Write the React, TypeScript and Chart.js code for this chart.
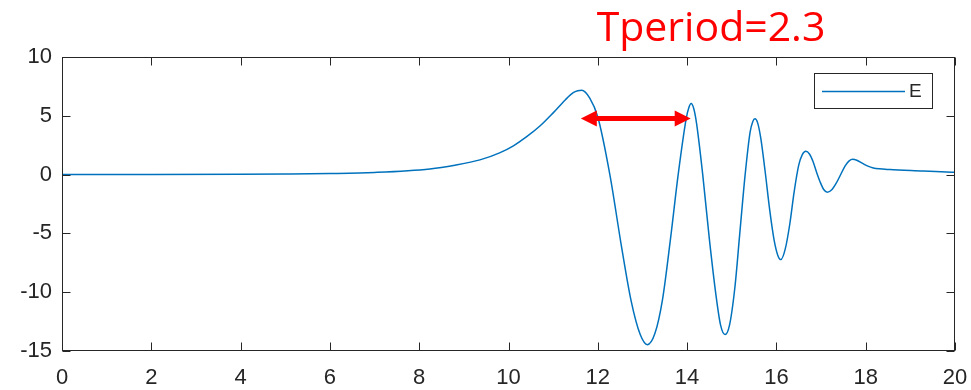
import React, { useEffect, useRef } from "react";
import { Chart, registerables } from "chart.js";

Chart.register(...registerables);

// ---- data ----
const tValues = [
  0, 2, 4, 5, 6, 7, 8.24, 8.8, 9.36, 9.8, 10.11, 10.4, 10.71, 11.0, 11.27, 11.45, 11.55, 11.64,
  11.82, 12.0, 12.27, 12.53, 12.75, 12.95, 13.11,
  13.28, 13.45, 13.63, 13.8, 13.98, 14.04, 14.09,
  14.15, 14.21, 14.35, 14.5, 14.65, 14.75, 14.85,
  14.95, 15.07, 15.18, 15.3, 15.41, 15.47, 15.52,
  15.58, 15.65, 15.75, 15.85, 15.95, 16.03, 16.1,
  16.2, 16.3, 16.4, 16.5, 16.58, 16.66,
  16.74, 16.82, 16.9, 16.98, 17.06, 17.14,
  17.24, 17.34, 17.44, 17.54, 17.63, 17.71,
  17.8, 17.93, 18.05, 18.17, 18.3, 18.54, 19.29, 19.93, 20,
];
const eValues = [
  0, 0.01, 0.03, 0.05, 0.09, 0.18, 0.48, 0.8, 1.25, 1.85, 2.45, 3.2, 4.15, 5.25, 6.35, 6.97, 7.13, 7.17,
  6.5, 4.9, 0, -6.1, -10.8, -13.6, -14.46,
  -13.5, -10.6, -5.4, 0, 4.76, 5.7, 6.04,
  5.6, 4.4, 0, -5.53, -10.35, -12.8, -13.6,
  -12.8, -9.6, -5.0, 0, 3.6, 4.5, 4.74,
  4.4, 3.1, 0.2, -3.0, -5.6, -6.85, -7.23,
  -6.3, -4.2, -1.4, 0.8, 1.7, 1.98,
  1.75, 1.11, 0.2, -0.63, -1.27, -1.5,
  -1.29, -0.73, 0.01, 0.75, 1.17, 1.3,
  1.22, 0.95, 0.72, 0.57, 0.49, 0.43, 0.31, 0.2, 0.19,
];
const seriesLabel = "E";
const xTicks = [0, 2, 4, 6, 8, 10, 12, 14, 16, 18, 20];
const yTicks = [-15, -10, -5, 0, 5, 10];
const titleText = "Tperiod=2.3";
const arrowStartX = 11.62;
const arrowEndX = 14.08;
const arrowY = 4.76;

const AXIS_COLOR = "#262626";
const LINE_COLOR = "#0072BD";

const decorPlugin = {
  id: "decor",
  afterDraw(chart: any) {
    const { ctx, chartArea, scales } = chart;
    const xs = scales.x;
    const ys = scales.y;
    const L = Math.round(chartArea.left) + 0.5;
    const R = Math.round(chartArea.right) - 0.5;
    const T = Math.round(chartArea.top) + 0.5;
    const B = Math.round(chartArea.bottom) - 0.5;
    ctx.save();
    // axes box
    ctx.strokeStyle = AXIS_COLOR;
    ctx.lineWidth = 1;
    ctx.strokeRect(L, T, R - L, B - T);
    // ticks inside on all sides
    const tl = 8;
    ctx.beginPath();
    xTicks.forEach((v) => {
      const px = Math.round(xs.getPixelForValue(v)) + 0.5;
      ctx.moveTo(px, B);
      ctx.lineTo(px, B - tl);
      ctx.moveTo(px, T);
      ctx.lineTo(px, T + tl);
    });
    yTicks.forEach((v) => {
      const py = Math.round(ys.getPixelForValue(v)) + 0.5;
      ctx.moveTo(L, py);
      ctx.lineTo(L + tl, py);
      ctx.moveTo(R, py);
      ctx.lineTo(R - tl, py);
    });
    ctx.stroke();

    // red double arrow
    const ax1 = xs.getPixelForValue(arrowStartX);
    const ax2 = xs.getPixelForValue(arrowEndX);
    const ay = ys.getPixelForValue(arrowY);
    const headL = 16;
    const headH = 8;
    ctx.strokeStyle = "#FF0000";
    ctx.fillStyle = "#FF0000";
    ctx.lineWidth = 5;
    ctx.beginPath();
    ctx.moveTo(ax1 + headL - 2, ay);
    ctx.lineTo(ax2 - headL + 2, ay);
    ctx.stroke();
    ctx.beginPath();
    ctx.moveTo(ax1, ay);
    ctx.lineTo(ax1 + headL, ay - headH);
    ctx.lineTo(ax1 + headL, ay + headH);
    ctx.closePath();
    ctx.fill();
    ctx.beginPath();
    ctx.moveTo(ax2, ay);
    ctx.lineTo(ax2 - headL, ay - headH);
    ctx.lineTo(ax2 - headL, ay + headH);
    ctx.closePath();
    ctx.fill();

    // legend box
    const lx = 814.5;
    const ly = 73.5;
    const lw = 118;
    const lh = 35;
    ctx.fillStyle = "#FFFFFF";
    ctx.fillRect(lx, ly, lw, lh);
    ctx.strokeStyle = AXIS_COLOR;
    ctx.lineWidth = 1;
    ctx.strokeRect(lx, ly, lw, lh);
    ctx.strokeStyle = LINE_COLOR;
    ctx.lineWidth = 1.5;
    ctx.beginPath();
    ctx.moveTo(822, 91.5);
    ctx.lineTo(905, 91.5);
    ctx.stroke();
    ctx.fillStyle = AXIS_COLOR;
    ctx.font = "19px 'Liberation Sans', Arial, sans-serif";
    ctx.textAlign = "left";
    ctx.textBaseline = "middle";
    ctx.fillText(chart.data.datasets[0].label, 909, 92);

    // title
    ctx.fillStyle = "#FF0000";
    ctx.font = "41px 'Open Sans', sans-serif";
    ctx.textAlign = "center";
    ctx.textBaseline = "alphabetic";
    ctx.fillText(titleText, 711, 41);
    ctx.restore();
  },
};

export default function App() {
  const canvasRef = useRef<HTMLCanvasElement | null>(null);

  useEffect(() => {
    if (!canvasRef.current) return;
    const tickFont = { family: "'Liberation Sans', Arial, sans-serif", size: 22 };
    const chart = new Chart(canvasRef.current, {
      type: "line",
      data: {
        datasets: [
          {
            label: seriesLabel,
            data: tValues.map((t, i) => ({ x: t, y: eValues[i] })),
            borderColor: LINE_COLOR,
            borderWidth: 1.5,
            pointRadius: 0,
            fill: false,
            cubicInterpolationMode: "monotone",
          },
        ],
      },
      options: {
        responsive: false,
        animation: false,
        events: [],
        layout: { padding: { top: 57, right: 16, left: 0, bottom: 0 } },
        plugins: {
          legend: { display: false },
          title: { display: false },
          tooltip: { enabled: false },
        },
        scales: {
          x: {
            type: "linear",
            min: 0,
            max: 20,
            grid: { display: false, drawTicks: false },
            border: { display: false },
            afterBuildTicks: (scale: any) => {
              scale.ticks = xTicks.map((v) => ({ value: v }));
            },
            afterFit: (scale: any) => {
              scale.height = 39;
              scale.paddingLeft = 0;
              scale.paddingRight = 0;
            },
            ticks: {
              color: AXIS_COLOR,
              font: tickFont,
              padding: 14,
              maxRotation: 0,
              autoSkip: false,
            },
          },
          y: {
            type: "linear",
            min: -15,
            max: 10,
            grid: { display: false, drawTicks: false },
            border: { display: false },
            afterBuildTicks: (scale: any) => {
              scale.ticks = yTicks.map((v) => ({ value: v }));
            },
            afterFit: (scale: any) => {
              scale.width = 62;
              scale.paddingTop = 0;
              scale.paddingBottom = 0;
            },
            ticks: {
              color: AXIS_COLOR,
              font: tickFont,
              padding: 10,
              autoSkip: false,
            },
          },
        },
      },
      plugins: [decorPlugin],
    } as any);
    return () => chart.destroy();
  }, []);

  return (
    <div style={{ position: "fixed", left: 0, top: 0, width: 971, height: 390, background: "#fff" }}>
      <canvas ref={canvasRef} width={971} height={390} style={{ display: "block" }} />
    </div>
  );
}
